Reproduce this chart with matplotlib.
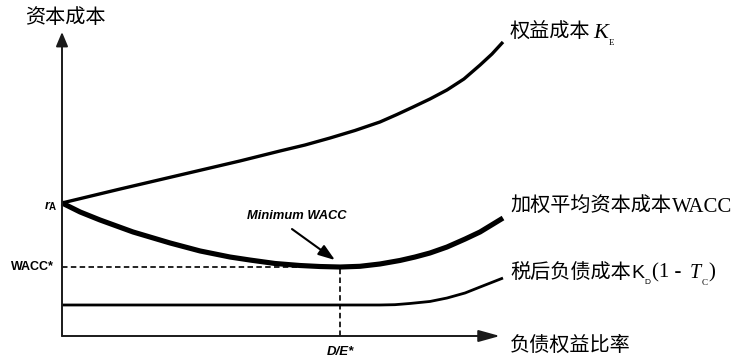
import matplotlib
matplotlib.use("Agg")
import matplotlib.pyplot as plt
from matplotlib.transforms import offset_copy

plt.rcParams['font.family'] = ['Noto Sans CJK SC', 'DejaVu Sans']

# Debt/equity ratio (x) and cost of capital in % (y) for each curve
equity_x = [0.00, 0.263, 0.535, 0.807, 0.989, 1.102, 1.215, 1.329, 1.442, 1.519,
            1.592, 1.669, 1.746, 1.823, 1.896, 1.950, 2.000]
equity_y = [13.17, 14.55, 15.94, 17.33, 18.32, 18.91, 19.60, 20.35, 21.19, 21.93,
            22.67, 23.47, 24.36, 25.45, 26.83, 27.92, 29.11]

wacc_x = [0.00, 0.082, 0.172, 0.322, 0.490, 0.626, 0.762, 0.853, 0.966, 1.079,
          1.170, 1.261, 1.351, 1.442, 1.533, 1.601, 1.669, 1.746, 1.828, 1.896, 2.000]
wacc_y = [13.17, 12.28, 11.49, 10.30, 9.21, 8.42, 7.82, 7.52, 7.18, 6.98,
          6.88, 6.83, 6.90, 7.13, 7.48, 7.82, 8.22, 8.81, 9.60, 10.30, 11.68]

debt_x = [0.00, 0.626, 1.442, 1.510, 1.578, 1.669, 1.746, 1.828, 1.896, 2.000]
debt_y = [3.07, 3.07, 3.07, 3.10, 3.22, 3.42, 3.76, 4.26, 4.85, 5.74]

r_a = 13.17          # unlevered cost of capital
de_star = 1.261      # optimal D/E
wacc_star = 6.83     # minimum WACC

CJK = 14.5
BLACK = '#000000'
AXIS = '#1a1a1a'

fig = plt.figure(figsize=(7.43, 3.61), dpi=100)
ax = fig.add_axes([62 / 743, 25 / 361, 441 / 743, 303 / 361])
ax.set_xlim(0, 2.0)
ax.set_ylim(0, 30)
ax.axis('off')

# Axes drawn as arrows
ax.annotate('', xy=(1.986, 0), xytext=(0, 0), annotation_clip=False,
            arrowprops=dict(arrowstyle='-|>,head_length=13,head_width=3.6',
                            mutation_scale=1, lw=1.4, color=AXIS,
                            shrinkA=0, shrinkB=0))
ax.annotate('', xy=(0, 30.1), xytext=(0, 0), annotation_clip=False,
            arrowprops=dict(arrowstyle='-|>,head_length=8.6,head_width=3.6',
                            mutation_scale=1, lw=1.4, color=AXIS,
                            shrinkA=0, shrinkB=0))

# Cost curves
ax.plot(equity_x, equity_y, color=BLACK, lw=2.4, solid_capstyle='butt',
        solid_joinstyle='round', clip_on=False)
ax.plot(wacc_x, wacc_y, color=BLACK, lw=3.7, solid_capstyle='butt',
        solid_joinstyle='round', clip_on=False)
ax.plot(debt_x, debt_y, color=BLACK, lw=2.0, solid_capstyle='butt',
        solid_joinstyle='round', clip_on=False)

# Guides to the minimum
ax.plot([0, de_star], [wacc_star, wacc_star], color=BLACK, lw=1.2,
        linestyle=(0, (3.3, 2.0)))
ax.plot([de_star, de_star], [0, wacc_star], color=BLACK, lw=1.2,
        linestyle=(0, (3.3, 2.0)))

ax.annotate('', xy=(1.238, 7.52), xytext=(1.043, 10.59), annotation_clip=False,
            arrowprops=dict(arrowstyle='-|>,head_length=10,head_width=3.5',
                            mutation_scale=1, lw=1.5, color=BLACK,
                            shrinkA=0, shrinkB=0))
ax.text(1.066, 11.88, 'Minimum WACC', ha='center', va='center',
        fontsize=9.3, fontweight='bold', fontstyle='italic',
        family='Liberation Sans')

# Axis annotations
ax.text(-0.036, wacc_star, 'WACC*', ha='right', va='center', fontsize=9,
        fontweight='bold', family='Liberation Sans')
ax.text(de_star, -1.58, 'D/E*', ha='center', va='center', fontsize=9.5,
        fontweight='bold', fontstyle='italic', family='Liberation Sans')
ax.text(-0.056, 12.6, 'r', ha='right', va='baseline', fontsize=9,
        fontweight='bold', fontstyle='italic', family='Liberation Sans',
        clip_on=False)
ax.text(-0.06, 12.5, 'A', ha='left', va='baseline', fontsize=7,
        fontweight='bold', family='Liberation Sans', clip_on=False)

ax.text(0.0136, 31.58, '资本成本', ha='center', va='center', fontsize=CJK,
        clip_on=False)
ax.text(2.032, -0.89, '负债权益比率', ha='left', va='center', fontsize=CJK,
        clip_on=False)

renderer = fig.canvas.get_renderer()


def run_label(x, y, pieces):
    """Lay text pieces side by side on one baseline; each piece is
    (text, style dict, vertical shift px, extra gap px after)."""
    dx = 0.0
    for s, style, dy, gap in pieces:
        tr = offset_copy(ax.transData, fig=fig, x=dx, y=dy, units='dots')
        t = ax.text(x, y, s, transform=tr, ha='left', va='baseline',
                    clip_on=False, **style)
        dx += t.get_window_extent(renderer=renderer).width + gap


cjk = dict(fontsize=CJK)
serif = dict(family='Liberation Serif', fontsize=15)
serif_it = dict(family='Liberation Serif', fontsize=16, fontstyle='italic')
serif_sub = dict(family='Liberation Serif', fontsize=6.5)
sans = dict(family='Liberation Sans', fontsize=14)
sans_sub = dict(family='Liberation Sans', fontsize=6)

run_label(2.032, 29.50, [
    ('权益成本', cjk, 0, 3),
    ('K', serif_it, 0, 0),
    ('E', serif_sub, -7, 0),
])
run_label(2.032, 12.28, [
    ('加权平均资本成本', cjk, 0, 1),
    ('WACC', serif, 0, 0),
])
run_label(2.032, 5.79, [
    ('税后负债成本', cjk, 0, 1),
    ('K', sans, 0, 0),
    ('D', sans_sub, -6, 1),
    ('(1 -', serif, 0, 9),
    ('T', dict(family='Liberation Serif', fontsize=14.5, fontstyle='italic'), 0, 0),
    ('C', serif_sub, -7, 1),
    (')', serif, 0, 0),
])

fig.savefig('out.png', dpi=100)
